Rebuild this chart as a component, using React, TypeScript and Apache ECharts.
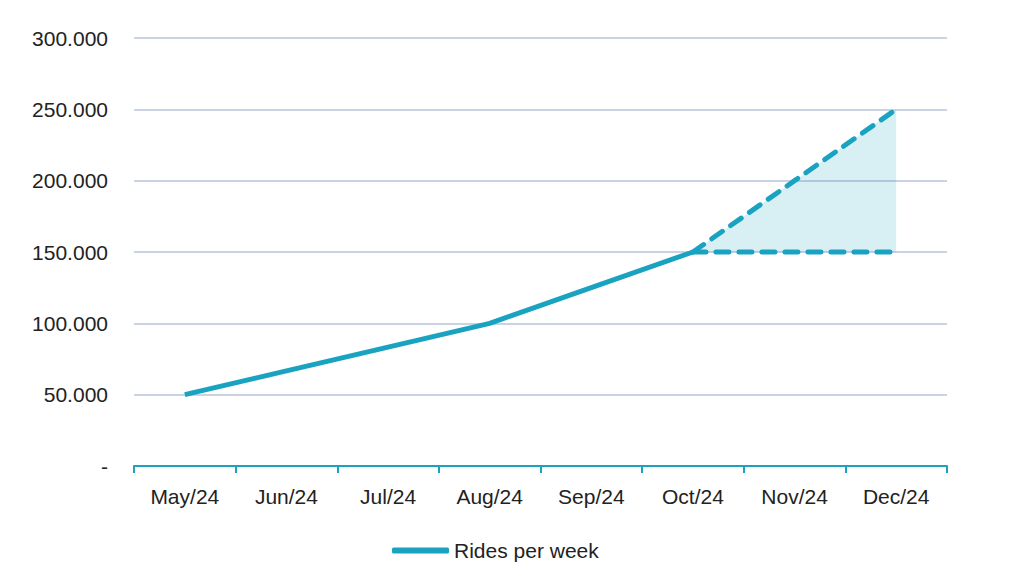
import React, { useEffect, useRef } from "react";
import * as echarts from "echarts";

const months = ["May/24", "Jun/24", "Jul/24", "Aug/24", "Sep/24", "Oct/24", "Nov/24", "Dec/24"];
const ridesPerWeek = [50000, 66667, 83333, 100000, 125000, 150000, null, null];
const optimistic = [null, null, null, null, null, 150000, 200000, 250000];
const baseline = [null, null, null, null, null, 150000, 150000, 150000];
const yTicks = [0, 50000, 100000, 150000, 200000, 250000, 300000];

const TEAL = "#1aa3c0";
const FONT = "Liberation Sans, Arial, sans-serif";

function fmt(v: number): string {
  if (v === 0) return "-";
  return String(v).replace(/\B(?=(\d{3})+(?!\d))/g, ".");
}

export default function App() {
  const ref = useRef<HTMLDivElement>(null);
  useEffect(() => {
    if (!ref.current) return;
    const chart = echarts.init(ref.current, undefined, { renderer: "svg" });
    chart.setOption({
      animation: false,
      backgroundColor: "#ffffff",
      textStyle: { fontFamily: FONT },
      grid: { left: 134, right: 77, top: 38, bottom: 111 },
      legend: {
        data: ["Rides per week"],
        bottom: 11,
        left: 387,
        itemWidth: 57,
        itemHeight: 6,
        itemGap: 4,
        textStyle: { fontSize: 21, color: "#222", fontFamily: FONT },
        icon: "roundRect",
      },
      xAxis: {
        type: "category",
        data: months,
        boundaryGap: true,
        axisLine: { lineStyle: { color: TEAL, width: 2 } },
        axisTick: { show: true, length: 7, lineStyle: { color: TEAL, width: 2 } },
        axisLabel: { fontSize: 21, color: "#222", margin: 20 },
      },
      yAxis: {
        type: "value",
        min: yTicks[0],
        max: yTicks[yTicks.length - 1],
        interval: 50000,
        axisLine: { show: false },
        axisTick: { show: false },
        splitLine: { lineStyle: { color: "#b8c4da", width: 1.5 } },
        axisLabel: { fontSize: 21, color: "#222", margin: 26, formatter: (v: number) => fmt(v) },
      },
      series: [
        {
          name: "Rides per week",
          type: "line",
          data: ridesPerWeek,
          symbol: "none",
          lineStyle: { color: TEAL, width: 5 },
          itemStyle: { color: TEAL },
          z: 5,
        },
        {
          name: "Optimistic",
          type: "line",
          data: optimistic,
          symbol: "none",
          lineStyle: { color: TEAL, width: 5, type: [13, 10], cap: "round" },
          itemStyle: { color: TEAL },
          areaStyle: { origin: 150000, color: "rgba(26,163,192,0.24)" },
          z: 4,
        },
        {
          name: "Baseline",
          type: "line",
          data: baseline,
          symbol: "none",
          lineStyle: { color: TEAL, width: 5, type: [13, 10], cap: "round" },
          itemStyle: { color: TEAL },
          z: 4,
        },
      ],
    });
    return () => chart.dispose();
  }, []);
  return (
    <div
      ref={ref}
      style={{ position: "fixed", left: 0, top: 0, width: 1024, height: 577, background: "#fff" }}
    />
  );
}
